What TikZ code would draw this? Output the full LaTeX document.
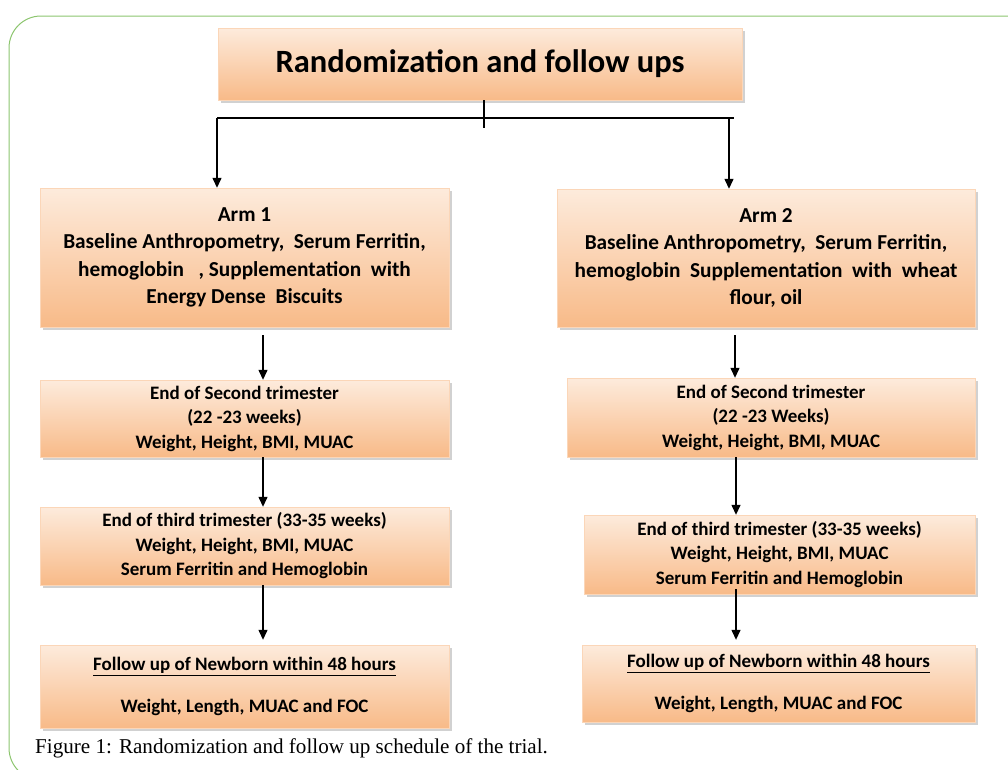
\documentclass[tikz,border=0pt]{standalone}
\usepackage{fontspec}
\setmainfont{Carlito}
\newfontfamily\capfont{Liberation Serif}
\usetikzlibrary{arrows.meta,shadows,calc}
\definecolor{boxtop}{HTML}{FDEBDC}
\definecolor{boxbot}{HTML}{F8BA88}
\definecolor{frame}{HTML}{8CC56E}
\tikzset{
  stepbox/.style={draw=boxbot!60!white, line width=0.4pt, top color=boxtop, bottom color=boxbot,
    align=center, inner sep=0pt, font=\bfseries,
    drop shadow={shadow xshift=3pt, shadow yshift=-3pt, fill=black!40, opacity=0.45}},
  armtext/.style={font=\bfseries\fontsize{21.3}{27.5}\selectfont},
  smalltext/.style={font=\bfseries\fontsize{19}{24.5}\selectfont},
  futext/.style={font=\bfseries\fontsize{19}{42}\selectfont},
  arr/.style={line width=1.3pt, -{Triangle[length=10pt,width=9pt]}},
  ln/.style={line width=1.3pt}
}
\begin{document}
\begin{tikzpicture}[x=1pt,y=-1pt]
\useasboundingbox (0,0) rectangle (1008,769);
% frame
\draw[frame, line width=1pt, rounded corners=32pt] (1010,16) -- (9,16) -- (9,780) -- (80,780);
% boxes
\node[stepbox, minimum width=524pt, minimum height=72pt, font=\bfseries\fontsize{32.5}{36}\selectfont] (top) at (480,64) {Randomization and follow ups};
\node[stepbox, armtext, minimum width=409pt, minimum height=139pt] (arm1) at (244.5,257.5)
  {Arm 1\\Baseline Anthropometry,\ \ Serum Ferritin,\\hemoglobin\ \ \ , Supplementation\ \ with\\Energy Dense\ \ Biscuits};
\node[stepbox, armtext, minimum width=418pt, minimum height=138pt] (arm2) at (766,258)
  {Arm 2\\Baseline Anthropometry,\ \ Serum Ferritin,\\hemoglobin\ \ Supplementation\ \ with\ \ wheat\\flour, oil};
\node[stepbox, smalltext, minimum width=409pt, minimum height=77pt] (l2) at (244.5,418.5)
  {End of Second trimester\\(22 -23 weeks)\\Weight, Height, BMI, MUAC};
\node[stepbox, smalltext, minimum width=409pt, minimum height=78pt] (l3) at (244.5,546)
  {End of third trimester (33-35 weeks)\\Weight, Height, BMI, MUAC\\Serum Ferritin and Hemoglobin};
\node[stepbox, futext, minimum width=409pt, minimum height=83pt] (l4) at (244.5,686.5)
  {\underline{Follow up of Newborn within 48 hours}\\Weight, Length, MUAC and FOC};
\node[stepbox, smalltext, minimum width=408pt, minimum height=79pt] (r2) at (771,417.5)
  {End of Second trimester\\(22 -23 Weeks)\\Weight, Height, BMI, MUAC};
\node[stepbox, smalltext, minimum width=391pt, minimum height=79pt] (r3) at (779.5,554.5)
  {End of third trimester (33-35 weeks)\\Weight, Height, BMI, MUAC\\Serum Ferritin and Hemoglobin};
\node[stepbox, futext, minimum width=393pt, minimum height=77pt] (r4) at (778.5,683.5)
  {\underline{Follow up of Newborn within 48 hours}\\Weight, Length, MUAC and FOC};
% caption
\node[anchor=west, inner sep=0pt, font=\capfont\fontsize{21.1}{24}\selectfont] (cap) at (35,748) {Figure 1: Randomization and follow up schedule of the trial.};
% connectors
\coordinate (jl) at (217,118);
\coordinate (jr) at (734,118);
\coordinate (jc) at (484,128);
\draw[ln] (top.south -| jc) -- (jc);
\draw[ln] (jl) -- (jr);
\draw[arr] (jl) -- (arm1.north -| jl);
\draw[arr] (729,118) -- (arm2.north -| 729,0);
\draw[arr] ([yshift=-8pt]arm1.south -| 263,0) -- (l2.north -| 263,0);
\draw[arr] (l2.south -| 263,0) -- (l3.north -| 263,0);
\draw[arr] (l3.south -| 263,0) -- ([yshift=5pt]l4.north -| 263,0);
\draw[arr] ([yshift=-8pt]arm2.south -| 735,0) -- (r2.north -| 735,0);
\draw[arr] (r2.south -| 736,0) -- (r3.north -| 736,0);
\draw[arr] ([yshift=5pt]r3.south -| 736,0) -- ([yshift=5pt]r4.north -| 736,0);
\end{tikzpicture}
\end{document}
